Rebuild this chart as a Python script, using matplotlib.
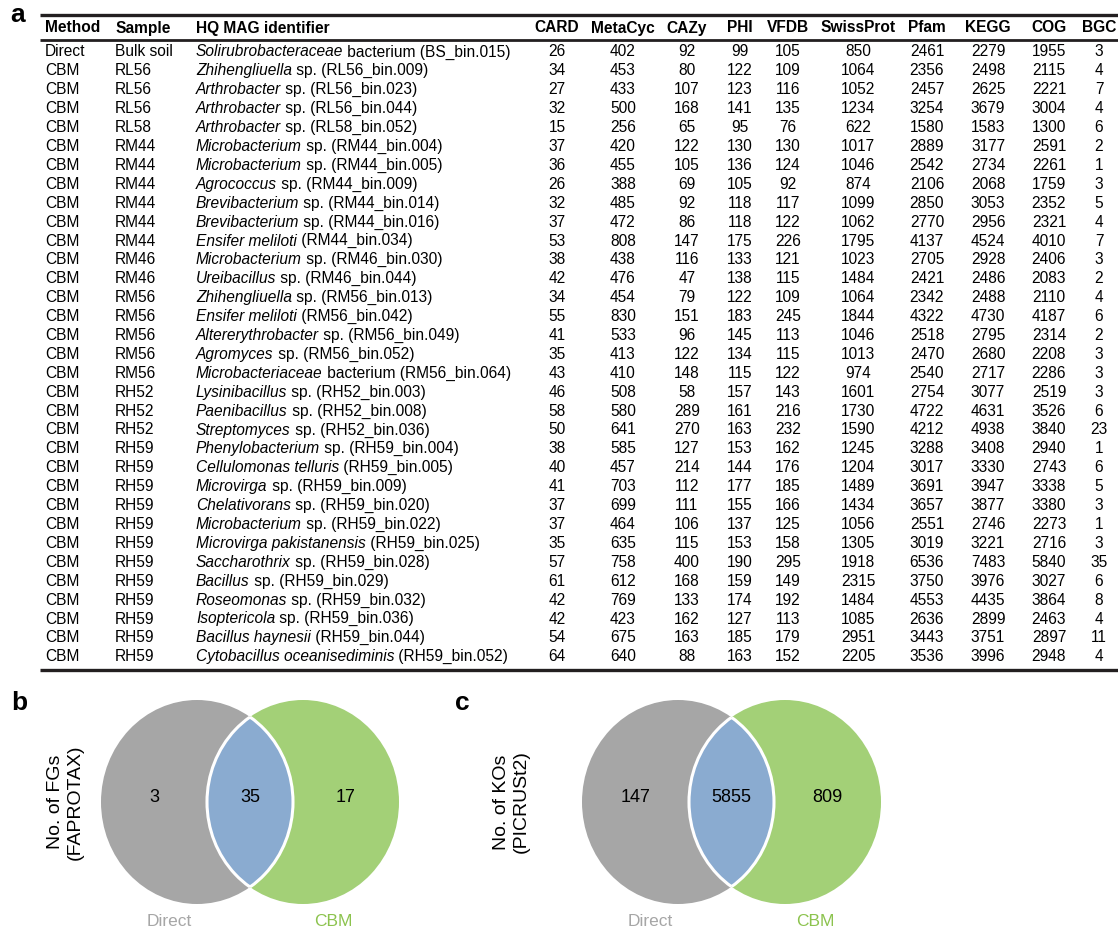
import matplotlib
matplotlib.use("Agg")
import matplotlib.pyplot as plt
from matplotlib.patches import Ellipse

plt.rcParams['font.family'] = ['Liberation Sans', 'DejaVu Sans']

# ---- table data ----
method = ["Direct"] + ["CBM"] * 32
sample = ["Bulk soil", "RL56", "RL56", "RL56", "RL58",
          "RM44", "RM44", "RM44", "RM44", "RM44", "RM44",
          "RM46", "RM46",
          "RM56", "RM56", "RM56", "RM56", "RM56",
          "RH52", "RH52", "RH52"] + ["RH59"] * 12
taxon = ["Solirubrobacteraceae", "Zhihengliuella", "Arthrobacter", "Arthrobacter", "Arthrobacter",
         "Microbacterium", "Microbacterium", "Agrococcus", "Brevibacterium", "Brevibacterium",
         "Ensifer meliloti", "Microbacterium", "Ureibacillus", "Zhihengliuella", "Ensifer meliloti",
         "Altererythrobacter", "Agromyces", "Microbacteriaceae", "Lysinibacillus", "Paenibacillus",
         "Streptomyces", "Phenylobacterium", "Cellulomonas telluris", "Microvirga", "Chelativorans",
         "Microbacterium", "Microvirga pakistanensis", "Saccharothrix", "Bacillus", "Roseomonas",
         "Isoptericola", "Bacillus haynesii", "Cytobacillus oceanisediminis"]
bin_id = ["bacterium (BS_bin.015)", "sp. (RL56_bin.009)", "sp. (RL56_bin.023)", "sp. (RL56_bin.044)",
          "sp. (RL58_bin.052)", "sp. (RM44_bin.004)", "sp. (RM44_bin.005)", "sp. (RM44_bin.009)",
          "sp. (RM44_bin.014)", "sp. (RM44_bin.016)", "(RM44_bin.034)", "sp. (RM46_bin.030)",
          "sp. (RM46_bin.044)", "sp. (RM56_bin.013)", "(RM56_bin.042)", "sp. (RM56_bin.049)",
          "sp. (RM56_bin.052)", "bacterium (RM56_bin.064)", "sp. (RH52_bin.003)", "sp. (RH52_bin.008)",
          "sp. (RH52_bin.036)", "sp. (RH59_bin.004)", "(RH59_bin.005)", "sp. (RH59_bin.009)",
          "sp. (RH59_bin.020)", "sp. (RH59_bin.022)", "(RH59_bin.025)", "sp. (RH59_bin.028)",
          "sp. (RH59_bin.029)", "sp. (RH59_bin.032)", "sp. (RH59_bin.036)", "(RH59_bin.044)",
          "(RH59_bin.052)"]

card = [26, 34, 27, 32, 15, 37, 36, 26, 32, 37, 53, 38, 42, 34, 55, 41, 35, 43, 46, 58, 50,
        38, 40, 41, 37, 37, 35, 57, 61, 42, 42, 54, 64]
metacyc = [402, 453, 433, 500, 256, 420, 455, 388, 485, 472, 808, 438, 476, 454, 830, 533, 413,
           410, 508, 580, 641, 585, 457, 703, 699, 464, 635, 758, 612, 769, 423, 675, 640]
cazy = [92, 80, 107, 168, 65, 122, 105, 69, 92, 86, 147, 116, 47, 79, 151, 96, 122, 148, 58,
        289, 270, 127, 214, 112, 111, 106, 115, 400, 168, 133, 162, 163, 88]
phi = [99, 122, 123, 141, 95, 130, 136, 105, 118, 118, 175, 133, 138, 122, 183, 145, 134, 115,
       157, 161, 163, 153, 144, 177, 155, 137, 153, 190, 159, 174, 127, 185, 163]
vfdb = [105, 109, 116, 135, 76, 130, 124, 92, 117, 122, 226, 121, 115, 109, 245, 113, 115, 122,
        143, 216, 232, 162, 176, 185, 166, 125, 158, 295, 149, 192, 113, 179, 152]
swissprot = [850, 1064, 1052, 1234, 622, 1017, 1046, 874, 1099, 1062, 1795, 1023, 1484, 1064,
             1844, 1046, 1013, 974, 1601, 1730, 1590, 1245, 1204, 1489, 1434, 1056, 1305, 1918,
             2315, 1484, 1085, 2951, 2205]
pfam = [2461, 2356, 2457, 3254, 1580, 2889, 2542, 2106, 2850, 2770, 4137, 2705, 2421, 2342,
        4322, 2518, 2470, 2540, 2754, 4722, 4212, 3288, 3017, 3691, 3657, 2551, 3019, 6536,
        3750, 4553, 2636, 3443, 3536]
kegg = [2279, 2498, 2625, 3679, 1583, 3177, 2734, 2068, 3053, 2956, 4524, 2928, 2486, 2488,
        4730, 2795, 2680, 2717, 3077, 4631, 4938, 3408, 3330, 3947, 3877, 2746, 3221, 7483,
        3976, 4435, 2899, 3751, 3996]
cog = [1955, 2115, 2221, 3004, 1300, 2591, 2261, 1759, 2352, 2321, 4010, 2406, 2083, 2110,
       4187, 2314, 2208, 2286, 2519, 3526, 3840, 2940, 2743, 3338, 3380, 2273, 2716, 5840,
       3027, 3864, 2463, 2897, 2948]
bgc = [3, 4, 7, 4, 6, 2, 1, 3, 5, 4, 7, 3, 2, 4, 6, 2, 3, 3, 3, 6, 23, 1, 6, 5, 3, 1, 3, 35,
       6, 8, 4, 11, 4]

num_headers = ["CARD", "MetaCyc", "CAZy", "PHI", "VFDB", "SwissProt", "Pfam", "KEGG", "COG", "BGC"]
num_cols = [card, metacyc, cazy, phi, vfdb, swissprot, pfam, kegg, cog, bgc]

# ---- venn data (Direct only, shared, CBM only) ----
venn_fg = [3, 35, 17]
venn_ko = [147, 5855, 809]
venn_names = ["Direct", "CBM"]

# ---- layout (pixel coords, y downward) ----
W, H = 1118, 931
fig = plt.figure(figsize=(W / 100, H / 100), dpi=100)
ax = fig.add_axes([0, 0, 1, 1])
ax.set_xlim(0, W)
ax.set_ylim(H, 0)
ax.axis('off')

fs = 11.2
dark = "#231f20"
col_x = [557, 623, 687, 740, 788, 858, 927, 988, 1049, 1099]
x_method, x_sample, x_ident = 45, 115, 196
y_head = 28
y0, dy = 52, 18.9

ax.text(18, 15, "a", fontsize=19, fontweight='bold', ha='center', va='center')
ax.hlines([15], 40, W, color=dark, lw=2.4)
ax.hlines([40], 40, W, color=dark, lw=2.0)
ax.hlines([y0 + dy * (len(method) - 1) + 13], 40, W, color=dark, lw=2.4)

for x, lab in [(x_method, "Method"), (x_sample, "Sample"), (x_ident, "HQ MAG identifier")]:
    ax.text(x, y_head, lab, fontsize=fs, fontweight='bold', ha='left', va='center')
for x, lab in zip(col_x, num_headers):
    ax.text(x, y_head, lab, fontsize=fs, fontweight='bold', ha='center', va='center')

for i in range(len(method)):
    y = y0 + i * dy
    ax.text(x_method, y, method[i], fontsize=fs, va='center')
    ax.text(x_sample, y, sample[i], fontsize=fs, va='center')
    t = ax.text(x_ident, y, taxon[i], fontsize=fs, va='center', style='italic')
    ax.annotate(" " + bin_id[i], xy=(1, 0), xycoords=t, fontsize=fs, ha='left', va='bottom')
    for x, col in zip(col_x, num_cols):
        ax.text(x, y, str(col[i]), fontsize=fs, ha='center', va='center')

# ---- venn diagrams ----
grey, green, blue = "#a6a6a6", "#a3d077", "#8aabd0"


def venn(cx1, cx2, cy, counts, letter, lx, ylab, label_x):
    w, h = 192, 204
    e1 = Ellipse((cx1, cy), w, h, facecolor=grey, edgecolor='none')
    e2 = Ellipse((cx2, cy), w, h, facecolor=green, edgecolor='none')
    ax.add_patch(e1)
    ax.add_patch(e2)
    lens = Ellipse((cx2, cy), w, h, facecolor=blue, edgecolor='white', lw=2.2)
    ax.add_patch(lens)
    lens.set_clip_path(e1)
    rim = Ellipse((cx1, cy), w, h, facecolor='none', edgecolor='white', lw=2.2)
    ax.add_patch(rim)
    rim.set_clip_path(e2)
    left_edge, right_edge = cx2 - w / 2, cx1 + w / 2
    nfs = 13
    ax.text((cx1 - w / 2 + left_edge) / 2, cy - 4, str(counts[0]), fontsize=nfs, ha='center', va='center')
    ax.text((left_edge + right_edge) / 2, cy - 4, str(counts[1]), fontsize=nfs, ha='center', va='center')
    ax.text((right_edge + cx2 + w / 2) / 2, cy - 4, str(counts[2]), fontsize=nfs, ha='center', va='center')
    ax.text(cx1 - 28, 922, venn_names[0], fontsize=12.5, color=grey, ha='center', va='center')
    ax.text(cx2 + 30, 922, venn_names[1], fontsize=12.5, color="#8cc34e", ha='center', va='center')
    ax.text(lx, 703, letter, fontsize=19, fontweight='bold', ha='center', va='center')
    ax.text(label_x, cy, ylab, fontsize=14, rotation=90, ha='center', va='center',
            multialignment='center', linespacing=1.2)


venn(197, 303, 802, venn_fg, "b", 19, "No. of FGs\n(FAPROTAX)", 65)
venn(678, 785, 802, venn_ko, "c", 462, "No. of KOs\n(PICRUSt2)", 511)

fig.savefig("out.png", dpi=100)
